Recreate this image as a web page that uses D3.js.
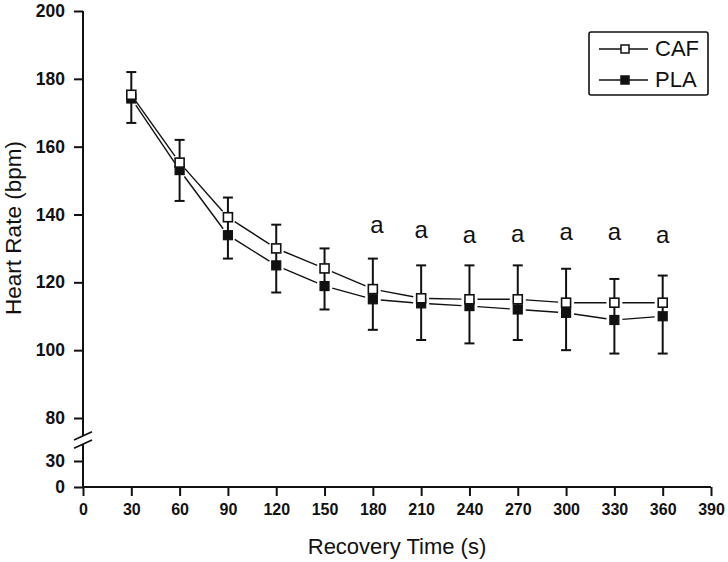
<!DOCTYPE html>
<html>
<head>
<meta charset="utf-8">
<script src="https://cdn.jsdelivr.net/npm/d3@7"></script>
<style>
  html, body { margin: 0; padding: 0; background: #fff; }
  svg { display: block; font-family: Arial, "Liberation Sans", sans-serif; }
</style>
</head>
<body>
<svg id="chart" width="728" height="562"></svg>
<script>
// ---- data ----
const times = [30, 60, 90, 120, 150, 180, 210, 240, 270, 300, 330, 360];
const caf = [175.3, 155.3, 139.2, 130, 124.1, 118, 115.3, 115, 115, 114, 114, 114];
const pla = [174.2, 153.1, 133.9, 125, 118.9, 115, 113.8, 113, 112, 111, 108.9, 110];
const errHigh = [182, 162, 145, 137, 130, 127, 125, 125, 125, 124, 121, 122];
const errLow = [167, 144, 127, 117, 112, 106, 103, 102, 103, 100, 99, 99];
const annotTimes = [180, 210, 240, 270, 300, 330, 360];
const annotValues = [134.5, 133.1, 131.6, 132.0, 132.5, 132.5, 131.6];
const annotText = "a";
const xTicks = [0, 30, 60, 90, 120, 150, 180, 210, 240, 270, 300, 330, 360, 390];
const yTicksUpper = [80, 100, 120, 140, 160, 180, 200];
const yTicksLower = [0, 30];
const seriesNames = ["CAF", "PLA"];

// ---- layout ----
const svg = d3.select("#chart");
const x = d3.scaleLinear().domain([0, 390]).range([83, 711]);
const yUp = d3.scaleLinear().domain([80, 200]).range([418, 11]);
const yLow = d3.scaleLinear().domain([0, 30]).range([487, 461]);
const axisX = 83, axisY = 487;
const breakTop = 436, breakBottom = 444;

// axes
const gx = svg.append("g").attr("transform", `translate(0,${axisY})`)
  .call(d3.axisBottom(x).tickValues(xTicks).tickFormat(d3.format("d"))
    .tickSize(9).tickSizeOuter(0).tickPadding(8));
const gyU = svg.append("g").attr("transform", `translate(${axisX},0)`)
  .call(d3.axisLeft(yUp).tickValues(yTicksUpper).tickFormat(d3.format("d"))
    .tickSize(9).tickSizeOuter(0).tickPadding(9));
const gyL = svg.append("g").attr("transform", `translate(${axisX},0)`)
  .call(d3.axisLeft(yLow).tickValues(yTicksLower).tickFormat(d3.format("d"))
    .tickSize(9).tickSizeOuter(0).tickPadding(9));
[gx, gyU, gyL].forEach((g, k) => {
  g.select(".domain").remove();
  g.selectAll(".tick line").attr("stroke", "#111").attr("stroke-width", 2);
  g.selectAll(".tick text").attr("fill", "#111").attr("font-size", k === 0 ? 16 : 17.5)
    .attr("font-family", 'Arial, "Liberation Sans", sans-serif').attr("font-weight", "bold");
});

// axis lines
svg.append("line").attr("x1", axisX).attr("x2", x(390)).attr("y1", axisY).attr("y2", axisY)
  .attr("stroke", "#111").attr("stroke-width", 2);
svg.append("line").attr("x1", axisX).attr("x2", axisX).attr("y1", yUp(200)).attr("y2", breakTop)
  .attr("stroke", "#111").attr("stroke-width", 2);
svg.append("line").attr("x1", axisX).attr("x2", axisX).attr("y1", breakBottom).attr("y2", axisY)
  .attr("stroke", "#111").attr("stroke-width", 2);
// break marks
[[440, 431.7], [448.3, 440]].forEach(([ya, yb]) => {
  svg.append("line").attr("x1", 74).attr("y1", ya).attr("x2", 92).attr("y2", yb)
    .attr("stroke", "#111").attr("stroke-width", 1.8);
});

// axis titles
svg.append("text").attr("x", (x(0) + x(390)) / 2).attr("y", 554)
  .attr("text-anchor", "middle").attr("font-size", 22).attr("fill", "#111")
  .text("Recovery Time (s)");
svg.append("text").attr("transform", "translate(21,228) rotate(-90)")
  .attr("text-anchor", "middle").attr("font-size", 22.5).attr("fill", "#111")
  .text("Heart Rate (bpm)");

// error bars
const capW = 5;
const eb = svg.append("g").attr("stroke", "#111").attr("stroke-width", 2);
times.forEach((t, i) => {
  const cx = x(t);
  eb.append("line").attr("x1", cx).attr("x2", cx).attr("y1", yUp(errHigh[i])).attr("y2", yUp(errLow[i]));
  eb.append("line").attr("x1", cx - capW).attr("x2", cx + capW).attr("y1", yUp(errHigh[i])).attr("y2", yUp(errHigh[i]));
  eb.append("line").attr("x1", cx - capW).attr("x2", cx + capW).attr("y1", yUp(errLow[i])).attr("y2", yUp(errLow[i]));
});

// connecting lines with gaps
function drawSeriesLines(vals) {
  const gap = 8;
  const g = svg.append("g").attr("stroke", "#111").attr("stroke-width", 1.4);
  for (let i = 0; i < times.length - 1; i++) {
    const x0 = x(times[i]), y0 = yUp(vals[i]);
    const x1 = x(times[i + 1]), y1 = yUp(vals[i + 1]);
    const dx = x1 - x0, dy = y1 - y0, L = Math.hypot(dx, dy);
    const ux = dx / L, uy = dy / L;
    g.append("line").attr("x1", x0 + ux * gap).attr("y1", y0 + uy * gap)
      .attr("x2", x1 - ux * gap).attr("y2", y1 - uy * gap);
  }
}
drawSeriesLines(caf);
drawSeriesLines(pla);

// markers
const ms = 9;
svg.append("g").selectAll("rect").data(times).join("rect")
  .attr("x", (d) => x(d) - ms / 2).attr("y", (d, i) => yUp(pla[i]) - ms / 2)
  .attr("width", ms).attr("height", ms).attr("fill", "#111").attr("stroke", "#111").attr("stroke-width", 1.2);
svg.append("g").selectAll("rect").data(times).join("rect")
  .attr("x", (d) => x(d) - ms / 2).attr("y", (d, i) => yUp(caf[i]) - ms / 2)
  .attr("width", ms).attr("height", ms).attr("fill", "#fff").attr("stroke", "#111").attr("stroke-width", 1.6);

// annotations
svg.append("g").selectAll("text").data(annotTimes).join("text")
  .attr("x", (d) => x(d) + (d === 180 ? 4 : 0)).attr("y", (d, i) => yUp(annotValues[i]))
  .attr("text-anchor", "middle").attr("font-size", 24).attr("fill", "#111")
  .text(annotText);

// legend
const lg = svg.append("g");
lg.append("rect").attr("x", 589).attr("y", 32).attr("width", 119).attr("height", 63).attr("rx", 2)
  .attr("fill", "#fff").attr("stroke", "#111").attr("stroke-width", 1.6);
const legY = [49, 80];
seriesNames.forEach((name, i) => {
  const yy = legY[i];
  lg.append("line").attr("x1", 599).attr("x2", 648).attr("y1", yy).attr("y2", yy)
    .attr("stroke", "#111").attr("stroke-width", 1.6);
  lg.append("rect").attr("x", 625 - 4).attr("y", yy - 4).attr("width", 8).attr("height", 8)
    .attr("fill", i === 0 ? "#fff" : "#111").attr("stroke", "#111").attr("stroke-width", 1.5);
  lg.append("text").attr("x", 655).attr("y", yy + 7).attr("font-size", 22).attr("fill", "#111").text(name);
});
</script>
</body>
</html>
